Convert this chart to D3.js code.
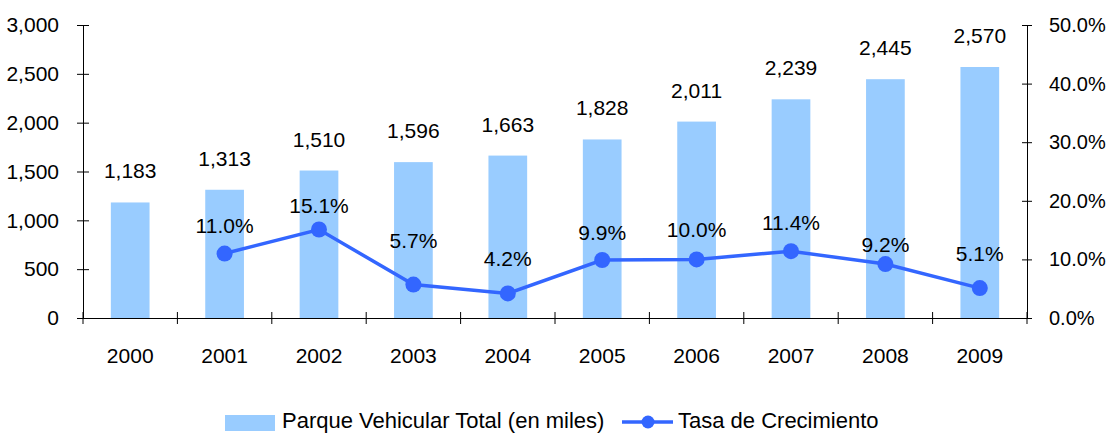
<!DOCTYPE html>
<html>
<head>
<meta charset="utf-8">
<script src="https://cdn.jsdelivr.net/npm/d3@7"></script>
<style>
  body { margin: 0; background: #fff; }
  svg text { font-family: "Liberation Sans", Arial, sans-serif; font-size: 21px; fill: #000; }
</style>
</head>
<body>
<svg id="chart" width="1108" height="434"></svg>
<script>
// data
var years = ["2000", "2001", "2002", "2003", "2004", "2005", "2006", "2007", "2008", "2009"];
var vehicles = [1183, 1313, 1510, 1596, 1663, 1828, 2011, 2239, 2445, 2570];
var growth = [null, 11.0, 15.1, 5.7, 4.2, 9.9, 10.0, 11.4, 9.2, 5.1];
var leftTicks = [0, 500, 1000, 1500, 2000, 2500, 3000];
var rightTicks = [0, 10, 20, 30, 40, 50];

// label lift above each growth point (Excel placed them unevenly)
var growthLabelLift = [0, 21, 17, 37, 27, 20, 22, 21, 12, 27];

var plotLeft = 83, plotRight = 1027, plotTop = 25, plotBottom = 318;
var font = "\"Liberation Sans\", Arial, sans-serif";

var svg = d3.select("#chart");

var x = d3.scaleBand().domain(years).range([plotLeft, plotRight]).padding(0);
var yL = d3.scaleLinear().domain([0, 3000]).range([plotBottom, plotTop]);
var yR = d3.scaleLinear().domain([0, 50]).range([plotBottom, plotTop]);

var barW = x.bandwidth() * 0.41;
var fmt = d3.format(",");
function cx(year) { return x(year) + x.bandwidth() / 2; }

// bars
svg.append("g").selectAll("rect")
  .data(vehicles)
  .enter().append("rect")
  .attr("x", function(d, i) { return cx(years[i]) - barW / 2; })
  .attr("y", function(d) { return yL(d); })
  .attr("width", barW)
  .attr("height", function(d) { return plotBottom - yL(d); })
  .attr("fill", "#99CCFF");

// x axis
var xAxis = svg.append("g")
  .attr("transform", "translate(0," + plotBottom + ")")
  .call(d3.axisBottom(x).tickSize(0).tickSizeOuter(0).tickPadding(0));
xAxis.selectAll(".tick text").attr("y", 45).attr("dy", 0);
xAxis.selectAll(".tick line").remove();
xAxis.selectAll("line.sep")
  .data(d3.range(years.length + 1))
  .enter().append("line")
  .attr("class", "sep")
  .attr("x1", function(i) { return plotLeft + i * x.step(); })
  .attr("x2", function(i) { return plotLeft + i * x.step(); })
  .attr("y1", -6).attr("y2", 6)
  .attr("stroke", "#000");

// left axis
var lAxis = svg.append("g")
  .attr("transform", "translate(" + plotLeft + ",0)")
  .call(d3.axisLeft(yL).tickValues(leftTicks).tickFormat(fmt).tickSizeOuter(0).tickPadding(18));
lAxis.selectAll(".tick line").attr("x1", -6).attr("x2", 6);

// right axis
var rAxis = svg.append("g")
  .attr("transform", "translate(" + plotRight + ",0)")
  .call(d3.axisRight(yR).tickValues(rightTicks).tickFormat(function(d) { return d.toFixed(1) + "%"; }).tickSizeOuter(0).tickPadding(16));
rAxis.selectAll(".tick line").attr("x1", -5).attr("x2", 5);

svg.selectAll(".domain").attr("stroke", "#000");
svg.selectAll(".tick line").attr("stroke", "#000");
svg.selectAll(".tick text").style("font-family", font).style("font-size", "21px").attr("fill", "#000");
rAxis.selectAll(".tick text").style("font-size", "20px");

// bar value labels
svg.append("g").selectAll("text")
  .data(vehicles)
  .enter().append("text")
  .attr("x", function(d, i) { return cx(years[i]); })
  .attr("y", function(d) { return yL(d) - 24; })
  .attr("text-anchor", "middle")
  .text(function(d) { return fmt(d); });

// growth line
var pts = growth.map(function(d, i) { return { year: years[i], v: d, i: i }; })
  .filter(function(d) { return d.v !== null; });

var line = d3.line()
  .x(function(d) { return cx(d.year); })
  .y(function(d) { return yR(d.v); });

svg.append("path")
  .datum(pts)
  .attr("d", line)
  .attr("fill", "none")
  .attr("stroke", "#3366FF")
  .attr("stroke-width", 3.5);

svg.append("g").selectAll("circle")
  .data(pts)
  .enter().append("circle")
  .attr("cx", function(d) { return cx(d.year); })
  .attr("cy", function(d) { return yR(d.v); })
  .attr("r", 8)
  .attr("fill", "#3366FF");

svg.append("g").selectAll("text")
  .data(pts)
  .enter().append("text")
  .attr("x", function(d) { return cx(d.year); })
  .attr("y", function(d) { return yR(d.v) - growthLabelLift[d.i]; })
  .attr("text-anchor", "middle")
  .text(function(d) { return d.v.toFixed(1) + "%"; });

// legend
var lg = svg.append("g");
lg.append("rect").attr("x", 225).attr("y", 415).attr("width", 50).attr("height", 16).attr("fill", "#99CCFF");
lg.append("text").attr("x", 282).attr("y", 428).style("font-size", "22px").text("Parque Vehicular Total (en miles)");
lg.append("line").attr("x1", 622).attr("x2", 673).attr("y1", 422).attr("y2", 422).attr("stroke", "#3366FF").attr("stroke-width", 3.5);
lg.append("circle").attr("cx", 648).attr("cy", 422).attr("r", 6.5).attr("fill", "#3366FF");
lg.append("text").attr("x", 678).attr("y", 428).style("font-size", "22px").text("Tasa de Crecimiento");
</script>
</body>
</html>
